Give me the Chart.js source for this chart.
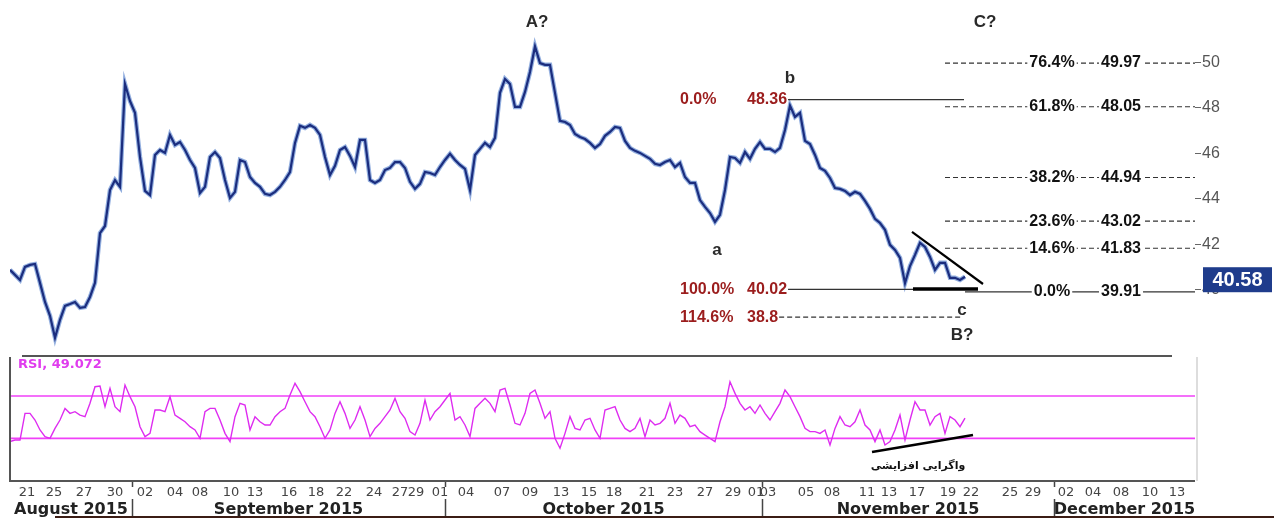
<!DOCTYPE html>
<html>
<head>
<meta charset="utf-8">
<script src="https://cdn.jsdelivr.net/npm/chart.js@4.4.0/dist/chart.umd.min.js"></script>
<style>
  body { margin: 0; background: #fff; width: 1274px; height: 518px; overflow: hidden; position: relative; }
  canvas { position: absolute; left: 0; }
  #grafPrecio { top: 0; }
  #grafRsi { top: 355px; }
</style>
</head>
<body>
<canvas id="grafPrecio" width="1274" height="355"></canvas>
<canvas id="grafRsi" width="1274" height="163"></canvas>
<script>
// Precio (cierre), una muestra por posición del eje
const precio = [
  40.88, 40.66, 40.44, 41.01, 41.10, 41.14, 40.31, 39.47, 38.86, 37.90,
  38.68, 39.30, 39.38, 39.47, 39.21, 39.25, 39.69, 40.31, 42.50, 42.81,
  44.39, 44.83, 44.53, 49.05, 48.30, 47.78, 45.84, 44.35, 44.17, 45.93,
  46.15, 46.02, 46.81, 46.37, 46.50, 46.15, 45.71, 45.36, 44.26, 44.53,
  45.84, 46.06, 45.80, 44.83, 44.04, 44.31, 45.71, 45.62, 44.96, 44.70,
  44.53, 44.22, 44.17, 44.31, 44.53, 44.83, 45.18, 46.46, 47.21, 47.12,
  47.25, 47.12, 46.81, 45.84, 45.05, 45.45, 46.15, 46.28, 45.89, 45.40,
  46.59, 46.59, 44.83, 44.70, 44.83, 45.27, 45.36, 45.62, 45.62, 45.36,
  44.75, 44.44, 44.66, 45.18, 45.14, 45.05, 45.40, 45.71, 45.98, 45.71,
  45.49, 45.32, 44.39, 45.93, 46.20, 46.46, 46.28, 46.68, 48.66, 49.27,
  49.05, 48.04, 48.04, 48.70, 49.58, 50.70, 49.97, 49.89, 49.89, 48.66,
  47.43, 47.38, 47.25, 46.85, 46.72, 46.63, 46.46, 46.24, 46.41, 46.77,
  46.94, 47.16, 47.12, 46.55, 46.24, 46.11, 46.02, 45.89, 45.76, 45.54,
  45.49, 45.62, 45.71, 45.40, 45.58, 44.96, 44.70, 44.70, 43.95, 43.65,
  43.38, 42.99, 43.30, 44.39, 45.84, 45.80, 45.58, 46.06, 45.76, 46.20,
  46.50, 46.20, 46.20, 46.06, 46.24, 47.03, 48.10, 47.60, 47.78, 46.55,
  46.41, 45.93, 45.36, 45.23, 44.92, 44.48, 44.44, 44.35, 44.17, 44.31,
  44.22, 43.91, 43.56, 43.12, 42.94, 42.64, 41.98, 41.76, 41.41, 40.30,
  41.05, 41.54, 42.07, 41.89, 41.45, 40.88, 41.19, 41.19, 40.53, 40.53,
  40.44, 40.58
];

// RSI en las mismas posiciones
const rsi = [
  26.9, 28.4, 28.4, 53.6, 53.6, 47.3, 37.9, 31.6, 30.0, 39.4,
  47.3, 58.3, 53.6, 55.2, 52.0, 50.5, 63.1, 78.8, 79.4, 59.9,
  77.2, 59.9, 55.2, 80.4, 69.4, 59.9, 41.0, 31.6, 34.7, 56.8,
  56.8, 55.2, 69.4, 52.0, 48.9, 45.7, 41.0, 37.9, 30.0, 55.2,
  58.3, 58.3, 47.3, 34.7, 26.9, 50.5, 63.1, 61.5, 37.9, 50.5,
  45.7, 42.6, 42.6, 50.5, 55.2, 58.3, 70.9, 82.0, 74.1, 64.6,
  55.2, 50.5, 41.0, 30.0, 37.9, 53.6, 64.6, 53.6, 39.4, 47.3,
  59.9, 47.3, 31.6, 39.4, 44.2, 50.5, 56.8, 67.8, 55.2, 48.9,
  36.3, 33.1, 44.2, 66.2, 47.3, 55.2, 59.9, 66.2, 72.5, 47.3,
  50.5, 42.6, 31.6, 58.3, 63.1, 67.8, 63.1, 55.2, 75.7, 77.2,
  61.5, 44.2, 42.6, 53.6, 72.5, 75.7, 63.1, 48.9, 55.2, 30.0,
  20.6, 34.7, 50.5, 39.4, 37.9, 47.3, 48.9, 37.9, 30.0, 56.8,
  58.3, 59.9, 47.3, 39.4, 36.3, 39.4, 48.9, 31.6, 47.3, 42.6,
  44.2, 48.9, 63.1, 44.2, 52.0, 48.9, 41.0, 42.6, 36.3, 33.1,
  30.0, 26.9, 45.7, 59.9, 83.5, 72.5, 63.1, 56.8, 59.9, 53.6,
  61.5, 53.6, 47.3, 55.2, 63.1, 75.7, 69.4, 59.9, 50.5, 39.4,
  36.3, 36.3, 34.7, 37.9, 23.7, 39.4, 50.5, 42.6, 41.0, 45.7,
  56.8, 42.6, 37.9, 26.9, 37.9, 23.7, 26.9, 37.9, 52.0, 28.4,
  47.3, 64.6, 56.8, 56.8, 42.6, 50.5, 53.6, 34.7, 50.5, 47.3,
  41.0, 49.1
];
const rsiNiveles = [70, 30];

// Eje de tiempo: etiquetas de días y meses
const diasPos = [3.4, 8.8, 14.8, 21, 27, 33, 38, 44.2, 49, 55.8, 61.2, 66.8, 72.8, 78, 81.2,
  86, 91.2, 98.4, 104, 110.2, 115.8, 120.8, 127.4, 133, 139, 144.6, 149.2, 151.6,
  159.2, 164.4, 171.4, 175.8, 181.4, 187.6, 192.2, 200, 204.6,
  211.2, 216.6, 222.2, 228, 233.4];
const diasTexto = ['21', '25', '27', '30', '02', '04', '08', '10', '13', '16', '18', '22', '24', '27', '29',
  '01', '04', '07', '09', '13', '15', '18', '21', '23', '27', '29', '01', '03',
  '05', '08', '11', '13', '17', '19', '22', '25', '29',
  '02', '04', '08', '10', '13'];
const mesesCorte = [24.4, 87, 150.4, 208.8];
const mesesTexto = ['August 2015', 'September 2015', 'October 2015', 'November 2015', 'December 2015'];
const ejeMax = 237;

// Precios del eje derecho
const preciosEje = [40, 42, 44, 46, 48, 50];

// Fibonacci izquierdo (rojo) y derecho (negro)
const fibIzqPct = ['0.0%', '100.0%', '114.6%'];
const fibIzqValor = [48.36, 40.02, 38.8];
const fibDerPct = ['76.4%', '61.8%', '38.2%', '23.6%', '14.6%', '0.0%'];
const fibDerValor = [49.97, 48.05, 44.94, 43.02, 41.83, 39.91];

// Etiquetas de ondas
const ondaTexto = ['A?', 'C?', 'b', 'a', 'c', 'B?'];
const ondaPos = [105.4, 195, 156, 141.4, 190.4, 190.4];
const ondaValor = [51.78, 51.78, 49.31, 41.76, 39.12, 38.02];

// Triángulo y divergencia
const trianguloPos = [180.4, 194.6];
const trianguloValor = [42.55, 40.26];
const soportePos = [180.6, 193.6];
const soporteValor = 40.04;
const divergenciaPos = [172.4, 192.6];
const divergenciaRsi = [17.0, 33.1];
const ultimoPrecio = 40.58;
const ultimoRsi = '49.072';

const puntos = arr => arr.map((v, i) => ({ x: i, y: v }));

// Anotaciones del gráfico de precio
const anotacionesPrecio = {
  id: 'anotacionesPrecio',
  afterDraw(chart) {
    const { ctx, scales: { x, y } } = chart;
    ctx.save();

    // ondas
    ctx.fillStyle = '#2a2a2a';
    ctx.font = 'bold 17px "Liberation Sans"';
    ctx.textAlign = 'center';
    ctx.textBaseline = 'middle';
    ondaTexto.forEach((t, i) => ctx.fillText(t, x.getPixelForValue(ondaPos[i]), y.getPixelForValue(ondaValor[i])));

    // fibonacci izquierdo
    ctx.font = 'bold 16px "Liberation Sans"';
    ctx.textAlign = 'left';
    fibIzqPct.forEach((p, i) => {
      const py = y.getPixelForValue(fibIzqValor[i]);
      ctx.fillStyle = '#9b1d1d';
      ctx.fillText(p, x.getPixelForValue(134), py);
      const vx = x.getPixelForValue(147.4);
      const txt = String(fibIzqValor[i]);
      ctx.fillText(txt, vx, py);
      const x0 = vx + ctx.measureText(txt).width + 1;
      ctx.strokeStyle = '#333';
      ctx.lineWidth = 1.2;
      ctx.setLineDash(i === 2 ? [5, 3] : []);
      ctx.beginPath();
      ctx.moveTo(x0, py);
      ctx.lineTo(x.getPixelForValue(i === 2 ? 190.4 : 190.8), py);
      ctx.stroke();
    });

    // fibonacci derecho
    fibDerPct.forEach((p, i) => {
      const py = y.getPixelForValue(fibDerValor[i]);
      const solido = i === fibDerPct.length - 1;
      ctx.strokeStyle = '#333';
      ctx.lineWidth = 1.2;
      ctx.setLineDash(solido ? [] : [5, 3]);
      ctx.beginPath();
      ctx.moveTo(x.getPixelForValue(solido ? 191 : 187), py);
      ctx.lineTo(x.getPixelForValue(ejeMax), py);
      ctx.stroke();
      ctx.setLineDash([]);
      ctx.font = 'bold 16px "Liberation Sans"';
      ctx.textAlign = 'center';
      [[p, 208.4], [fibDerValor[i].toFixed(2), 222.2]].forEach(([t, pos]) => {
        const cx = x.getPixelForValue(pos);
        const w = ctx.measureText(t).width + 4;
        ctx.fillStyle = '#fff';
        ctx.fillRect(cx - w / 2, py - 8, w, 16);
        ctx.fillStyle = '#111';
        ctx.fillText(t, cx, py);
      });
    });

    // triángulo
    ctx.setLineDash([]);
    ctx.strokeStyle = '#000';
    ctx.lineWidth = 2.2;
    ctx.beginPath();
    ctx.moveTo(x.getPixelForValue(trianguloPos[0]), y.getPixelForValue(trianguloValor[0]));
    ctx.lineTo(x.getPixelForValue(trianguloPos[1]), y.getPixelForValue(trianguloValor[1]));
    ctx.stroke();
    ctx.lineWidth = 3.5;
    ctx.beginPath();
    ctx.moveTo(x.getPixelForValue(soportePos[0]), y.getPixelForValue(soporteValor));
    ctx.lineTo(x.getPixelForValue(soportePos[1]), y.getPixelForValue(soporteValor));
    ctx.stroke();

    // caja del último precio
    const by = y.getPixelForValue(ultimoPrecio) + 3;
    const bx = chart.chartArea.right + 8;
    ctx.fillStyle = '#1f3c8c';
    ctx.fillRect(bx, by - 12.5, 69, 25);
    ctx.fillStyle = '#fff';
    ctx.font = 'bold 20px "Liberation Sans"';
    ctx.textAlign = 'center';
    ctx.fillText(ultimoPrecio.toFixed(2), bx + 34.5, by + 1);
    ctx.restore();
  }
};

// Gráfico de precio (el primer dataset se dibuja encima)
new Chart(document.getElementById('grafPrecio'), {
  type: 'line',
  data: {
    datasets: [
      { data: puntos(precio), borderColor: '#1b2d7e', borderWidth: 2.2, pointRadius: 0, tension: 0 },
      { data: puntos(precio), borderColor: 'rgba(120,155,215,0.8)', borderWidth: 4.5, pointRadius: 0, tension: 0 }
    ]
  },
  options: {
    responsive: false,
    animation: false,
    devicePixelRatio: 1,
    layout: { padding: { left: 10, right: 0, top: 0, bottom: 0 } },
    plugins: { legend: { display: false }, tooltip: { enabled: false } },
    scales: {
      x: { type: 'linear', min: 0, max: ejeMax, display: false },
      y: {
        position: 'right',
        min: 37.14,
        max: 52.74,
        afterBuildTicks: s => { s.ticks = preciosEje.map(v => ({ value: v })); },
        afterFit: s => { s.width = 79; s.paddingTop = 0; s.paddingBottom = 0; },
        border: { display: false },
        grid: { drawOnChartArea: false, drawTicks: true, tickLength: 6, color: '#666' },
        ticks: { padding: 1, color: '#555', font: { family: 'Liberation Sans', size: 16 } }
      }
    }
  },
  plugins: [anotacionesPrecio]
});

// Panel RSI y eje de fechas
const panelRsi = {
  id: 'panelRsi',
  beforeDatasetsDraw(chart) {
    const { ctx, chartArea: a, scales: { y } } = chart;
    ctx.save();
    ctx.strokeStyle = '#f040f8';
    ctx.lineWidth = 1.6;
    rsiNiveles.forEach(n => {
      const py = y.getPixelForValue(n);
      ctx.beginPath();
      ctx.moveTo(a.left, py);
      ctx.lineTo(a.right, py);
      ctx.stroke();
    });
    ctx.restore();
  },
  afterDraw(chart) {
    const { ctx, chartArea: a, scales: { x, y } } = chart;
    ctx.save();

    // marco
    ctx.strokeStyle = '#555';
    ctx.lineWidth = 2;
    ctx.beginPath();
    ctx.moveTo(22, 1);
    ctx.lineTo(1172, 1);
    ctx.stroke();
    ctx.beginPath();
    ctx.moveTo(a.left, a.top);
    ctx.lineTo(a.left, a.bottom + 1);
    ctx.lineTo(a.right, a.bottom + 1);
    ctx.stroke();
    ctx.strokeStyle = '#bbb';
    ctx.lineWidth = 1;
    ctx.beginPath();
    ctx.moveTo(a.right + 2, a.top);
    ctx.lineTo(a.right + 2, a.bottom + 1);
    ctx.stroke();

    // etiqueta RSI
    ctx.fillStyle = '#e03cee';
    ctx.font = 'bold 13px "DejaVu Sans"';
    ctx.textAlign = 'left';
    ctx.textBaseline = 'middle';
    ctx.fillText('RSI, ' + ultimoRsi, 18, 10);

    // divergencia
    ctx.strokeStyle = '#000';
    ctx.lineWidth = 2.6;
    ctx.beginPath();
    ctx.moveTo(x.getPixelForValue(divergenciaPos[0]), y.getPixelForValue(divergenciaRsi[0]));
    ctx.lineTo(x.getPixelForValue(divergenciaPos[1]), y.getPixelForValue(divergenciaRsi[1]));
    ctx.stroke();
    ctx.fillStyle = '#111';
    ctx.font = 'bold 11px "DejaVu Sans"';
    ctx.textAlign = 'center';
    ctx.fillText('واگرایی افزایشی', x.getPixelForValue(181.6), y.getPixelForValue(3.8));

    // días
    ctx.fillStyle = '#444';
    ctx.font = '13px "DejaVu Sans"';
    diasTexto.forEach((t, i) => ctx.fillText(t, x.getPixelForValue(diasPos[i]), 138));

    // meses
    const limites = [0, ...mesesCorte, ejeMax];
    ctx.fillStyle = '#222';
    ctx.font = 'bold 16px "DejaVu Sans"';
    mesesTexto.forEach((t, i) => {
      const cx = (x.getPixelForValue(limites[i]) + x.getPixelForValue(limites[i + 1])) / 2;
      ctx.fillText(t, cx, 155);
    });
    ctx.strokeStyle = '#444';
    ctx.lineWidth = 1.5;
    mesesCorte.forEach(m => {
      const px = Math.round(x.getPixelForValue(m)) + 0.5;
      ctx.beginPath();
      ctx.moveTo(px, 127);
      ctx.lineTo(px, 132);
      ctx.moveTo(px, 144);
      ctx.lineTo(px, 163);
      ctx.stroke();
    });

    // borde inferior
    ctx.strokeStyle = '#3b1c14';
    ctx.lineWidth = 2;
    ctx.beginPath();
    ctx.moveTo(55, 162);
    ctx.lineTo(1274, 162);
    ctx.stroke();
    ctx.restore();
  }
};

new Chart(document.getElementById('grafRsi'), {
  type: 'line',
  data: {
    datasets: [
      { data: puntos(rsi), borderColor: '#de2cf0', borderWidth: 1.4, pointRadius: 0, tension: 0 }
    ]
  },
  options: {
    responsive: false,
    animation: false,
    devicePixelRatio: 1,
    layout: { padding: { left: 10, right: 79, top: 2, bottom: 38 } },
    plugins: { legend: { display: false }, tooltip: { enabled: false } },
    scales: {
      x: { type: 'linear', min: 0, max: ejeMax, display: false },
      y: { min: -9.4, max: 106.9, display: false }
    }
  },
  plugins: [panelRsi]
});
</script>
</body>
</html>
